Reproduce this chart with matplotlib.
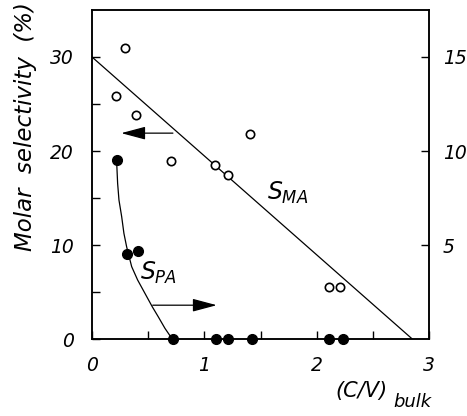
import matplotlib
matplotlib.use("Agg")
import matplotlib.pyplot as plt

# S_MA (open circles, left axis, %)
ma_x = [0.21, 0.29, 0.39, 0.70, 1.09, 1.21, 1.41, 2.11, 2.21]
ma_y = [25.9, 31.0, 23.8, 18.9, 18.5, 17.4, 21.8, 5.5, 5.5]
ma_line_x = [0.0, 2.85]
ma_line_y = [30.0, 0.0]

# S_PA (filled circles, right axis, %)
pa_x = [0.22, 0.31, 0.41, 0.72, 1.10, 1.21, 1.42, 2.11, 2.23]
pa_y = [9.5, 4.5, 4.7, 0.0, 0.0, 0.0, 0.0, 0.0, 0.0]
pa_curve_x = [0.219, 0.228, 0.240, 0.264, 0.284, 0.308, 0.353, 0.406, 0.471, 0.536, 0.589, 0.649, 0.714]
pa_curve_y = [9.47, 8.28, 7.39, 6.51, 5.62, 4.91, 3.85, 3.14, 2.43, 1.72, 1.19, 0.57, 0.0]

# ticks
x_ticks = [0, 1, 2, 3]
x_labels = ['0', '1', '2', '3']
yl_ticks = [0, 10, 20, 30]
yl_labels = ['0', '10', '20', '30']
yr_ticks = [5, 10, 15]
yr_labels = ['5', '10', '15']

plt.rcParams['font.family'] = ['DejaVu Sans']
plt.rcParams['font.style'] = 'oblique'
plt.rcParams['mathtext.default'] = 'it'

fig = plt.figure(figsize=(4.67, 4.16), dpi=100)
ax = fig.add_axes([0.197, 0.185, 0.722, 0.791])
ax2 = ax.twinx()

ax.plot(ma_line_x, ma_line_y, color='black', lw=0.9, zorder=2)
ax.plot(ma_x, ma_y, 'o', ms=6, mfc='white', mec='black', mew=1.2, zorder=3)

ax2.plot(pa_curve_x, pa_curve_y, color='black', lw=0.9, zorder=2)
ax2.plot(pa_x, pa_y, 'o', ms=7, color='black', clip_on=False, zorder=3)

ax.set_xlim(0, 3)
ax.set_ylim(0, 35)
ax2.set_ylim(0, 17.5)

ax.set_xticks(x_ticks, x_labels, fontstyle='oblique')
ax.set_xticks([0.5, 1.5, 2.5], minor=True)
ax.set_yticks(yl_ticks, yl_labels, fontstyle='oblique')
ax.set_yticks([5, 15, 25], minor=True)
ax2.set_yticks(yr_ticks, yr_labels, fontstyle='oblique')

ax.tick_params(axis='both', which='both', direction='in', length=6, width=1.0,
               labelsize=13.5, top=False, right=False)
ax.tick_params(axis='y', pad=13)
ax.tick_params(axis='x', pad=12)
ax2.tick_params(axis='y', direction='in', length=6, width=1.0, labelsize=13.5, pad=10)

for a in (ax, ax2):
    for s in a.spines.values():
        s.set_linewidth(1.1)

ax.set_ylabel('Molar  selectivity  (%)', fontsize=16.5, fontstyle='oblique')
ax.yaxis.set_label_coords(-0.163, 0.647)

ax.text(1.556, 14.8, r'$S_{MA}$', fontsize=17)
ax.text(0.43, 6.3, r'$S_{PA}$', fontsize=17)

arrow = dict(arrowstyle='-|>,head_length=1.5,head_width=0.4', color='black',
             lw=0.9, mutation_scale=10, shrinkA=0, shrinkB=0)
ax.annotate('', xy=(0.26, 21.9), xytext=(0.72, 21.9), arrowprops=arrow)
ax.annotate('', xy=(1.11, 3.6), xytext=(0.54, 3.6), arrowprops=arrow)

ax.text(0.721, -0.158, '(C/V)', transform=ax.transAxes, fontsize=15,
        fontstyle='oblique', ha='left', va='center')
ax.text(0.893, -0.19, 'bulk', transform=ax.transAxes, fontsize=13,
        fontstyle='oblique', ha='left', va='center')

fig.savefig('out.png', dpi=100)
